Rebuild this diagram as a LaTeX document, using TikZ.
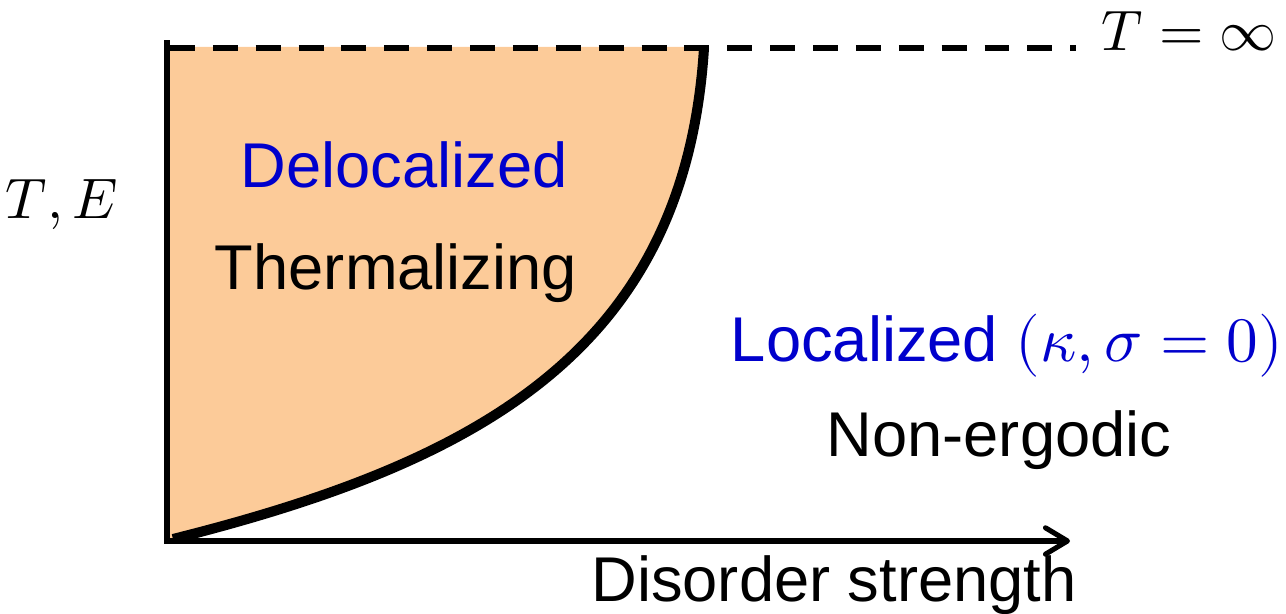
\documentclass[tikz,border=0pt]{standalone}
\usepackage{fontspec}
\setmainfont{Liberation Sans}
\usepackage{unicode-math}
\setmathfont{Latin Modern Math}
\usetikzlibrary{arrows.meta}
\definecolor{peach}{RGB}{252,203,153}
\definecolor{deepblue}{RGB}{0,0,204}
\tikzset{
  lbl/.style={inner sep=0pt, anchor=base, font=\fontsize{36}{43}\selectfont},
  mathlbl/.style={inner sep=0pt, anchor=base, font=\fontsize{32.5}{39}\selectfont},
  axisline/.style={line width=3.2pt, line cap=butt},
  xaxis/.style={line width=2.9pt, -{Straight Barb[length=12.5pt, width=15pt, line width=2.9pt, round]}},
  infline/.style={line width=3.4pt, dash pattern=on 14.2pt off 10.2pt},
  boundary/.style={line width=5.7pt, line join=round}
}
\begin{document}
\begin{tikzpicture}[x=0.02cm, y=-0.02cm]
  \useasboundingbox (0,0) rectangle (1286,614);
  % axes and reference points
  \coordinate (o) at (170,541);
  \coordinate (ytop) at (167,40);
  \coordinate (ybot) at (167,544);
  \coordinate (xend) at (1070,541);
  \coordinate (tinfL) at (170,48);
  \coordinate (tinfR) at (1076,48);
  \coordinate (edge0) at (173,539);
  \coordinate (edge1) at (704,48);
  % delocalized (thermalizing) region
  \fill[peach] (170,541) -- (edge0) .. controls (480,462) and (685,350) .. (edge1) -- (704,47) -- (170,47) -- cycle;
  % T = infinity line
  \draw[infline] (tinfL) -- (tinfR);
  % mobility edge
  \draw[boundary] (edge0) .. controls (480,462) and (685,350) .. (edge1);
  % axes
  \draw[axisline] (ybot) -- (ytop);
  \draw[xaxis] (o) -- (xend);
  % labels
  \node[mathlbl] (te) at (62,219) {$T,E$};
  \node[mathlbl] (tinf) at (1189,51) {$T=\infty$};
  \node[lbl, text=deepblue] (deloc) at (404,188) {Delocalized};
  \node[lbl] (therm) at (396,290) {Thermalizing};
  \node[lbl, text=deepblue] (loc) at (1007,362) {Localized $(\kappa,\sigma=0)$};
  \node[lbl] (nonerg) at (999,457) {Non-ergodic};
  \node[lbl] (dis) at (834,602) {Disorder strength};
\end{tikzpicture}
\end{document}
